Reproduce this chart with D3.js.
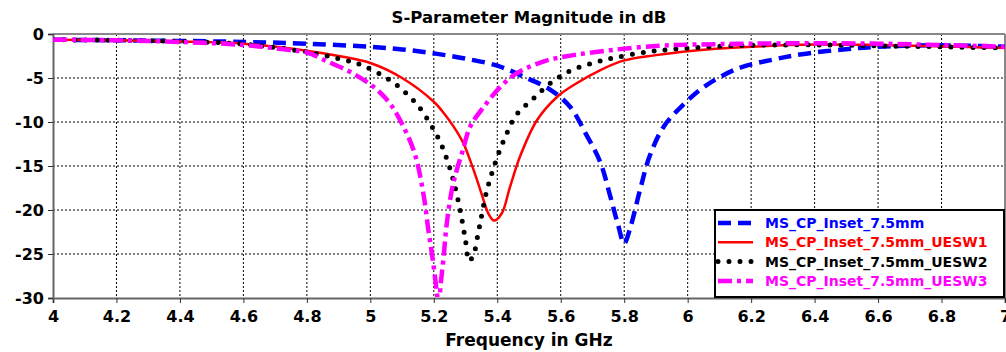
<!DOCTYPE html>
<html>
<head>
<meta charset="utf-8">
<script src="https://cdn.jsdelivr.net/npm/d3@7"></script>
<style>
  body { margin: 0; background: #fff; }
  svg { font-family: "DejaVu Sans", Verdana, sans-serif; font-weight: bold; }
</style>
</head>
<body>
<svg id="chart" width="1006" height="352"></svg>
<script>
// ticks
var xTicks = [4, 4.2, 4.4, 4.6, 4.8, 5, 5.2, 5.4, 5.6, 5.8, 6, 6.2, 6.4, 6.6, 6.8, 7];
var yTicks = [0, -5, -10, -15, -20, -25, -30];

// MS_CP_Inset_7.5mm
var blueFreq = [4.0, 4.3, 4.6, 4.8, 5.0, 5.1, 5.2, 5.3, 5.4, 5.48, 5.57, 5.63, 5.68, 5.725, 5.755, 5.78, 5.8, 5.82, 5.85, 5.88, 5.925, 5.99, 6.06, 6.16, 6.27, 6.36, 6.49, 6.6, 6.78, 7.0];
var blueDb = [-0.65, -0.75, -0.9, -1.1, -1.45, -1.75, -2.2, -2.8, -3.6, -4.8, -6.4, -8.3, -11.4, -14.6, -18.3, -21.6, -23.8, -21.9, -17.7, -13.9, -10.5, -7.9, -5.8, -3.9, -2.9, -2.3, -1.75, -1.45, -1.28, -1.45];

// MS_CP_Inset_7.5mm_UESW1
var redFreq = [4.0, 4.2, 4.4, 4.6, 4.8, 4.9, 5.0, 5.1, 5.2, 5.236, 5.262, 5.293, 5.32, 5.34, 5.357, 5.372, 5.39, 5.414, 5.44, 5.472, 5.525, 5.59, 5.65, 5.725, 5.8, 5.9, 6.0, 6.2, 6.4, 6.6, 6.8, 7.0];
var redDb = [-0.65, -0.72, -0.85, -1.1, -1.9, -2.5, -3.3, -5.0, -7.7, -9.2, -10.5, -12.4, -14.9, -17.0, -18.9, -20.4, -21.2, -20.4, -17.4, -13.9, -9.8, -7.1, -5.6, -4.1, -3.0, -2.4, -1.95, -1.45, -1.2, -1.25, -1.4, -1.6];

// MS_CP_Inset_7.5mm_UESW2
var blackFreq = [4.0, 4.2, 4.4, 4.6, 4.8, 4.9, 4.97, 5.06, 5.115, 5.16, 5.215, 5.24, 5.26, 5.283, 5.3, 5.311, 5.325, 5.34, 5.352, 5.365, 5.383, 5.405, 5.43, 5.46, 5.515, 5.57, 5.63, 5.7, 5.77, 5.88, 5.99, 6.12, 6.27, 6.45, 6.6, 6.8, 7.0];
var blackDb = [-0.65, -0.72, -0.85, -1.15, -2.05, -2.8, -3.5, -5.2, -6.8, -8.6, -11.9, -14.1, -16.4, -20.0, -23.5, -25.8, -25.1, -22.6, -20.4, -18.1, -15.8, -13.5, -11.3, -9.2, -7.3, -5.5, -4.2, -3.3, -2.7, -2.0, -1.63, -1.36, -1.25, -1.25, -1.35, -1.45, -1.6];

// MS_CP_Inset_7.5mm_UESW3
var magFreq = [4.0, 4.2, 4.4, 4.6, 4.74, 4.8, 4.863, 4.936, 5.01, 5.062, 5.104, 5.14, 5.167, 5.183, 5.197, 5.21, 5.215, 5.222, 5.23, 5.241, 5.257, 5.272, 5.29, 5.315, 5.357, 5.41, 5.46, 5.547, 5.64, 5.766, 5.91, 6.02, 6.2, 6.4, 6.6, 6.8, 7.0];
var magDb = [-0.65, -0.72, -0.9, -1.25, -1.8, -2.1, -3.1, -4.3, -6.0, -7.9, -10.5, -13.6, -18.1, -22.3, -25.7, -29.5, -31, -28.3, -25.7, -21.5, -17.7, -15.5, -13.4, -10.5, -8.3, -6.0, -4.5, -3.1, -2.4, -1.8, -1.33, -1.2, -1.1, -1.05, -1.1, -1.25, -1.45];

var seriesNames = ["MS_CP_Inset_7.5mm", "MS_CP_Inset_7.5mm_UESW1", "MS_CP_Inset_7.5mm_UESW2", "MS_CP_Inset_7.5mm_UESW3"];

var series = [
    { name: seriesNames[0], f: blueFreq, v: blueDb, color: "#0000ff", width: 4.5, dash: "13,7", cap: "butt" },
    { name: seriesNames[1], f: redFreq, v: redDb, color: "#ff0000", width: 2.5, dash: null, cap: "butt" },
    { name: seriesNames[2], f: blackFreq, v: blackDb, color: "#000000", width: 5, dash: "0,11", cap: "round" },
    { name: seriesNames[3], f: magFreq, v: magDb, color: "#ff00ff", width: 4.5, dash: "14,5,4,5", cap: "butt" }
];

var plotLeft = 53, plotRight = 1005, plotTop = 34, plotBottom = 298;

var x = d3.scaleLinear().domain([4, 7]).range([plotLeft, plotRight]);
var y = d3.scaleLinear().domain([-30, 0]).range([plotBottom, plotTop]);

var svg = d3.select("#chart");

// grid
svg.append("g").selectAll("line")
    .data(xTicks.slice(1, -1))
    .enter().append("line")
    .attr("x1", function (d) { return x(d); })
    .attr("x2", function (d) { return x(d); })
    .attr("y1", plotTop)
    .attr("y2", plotBottom)
    .attr("stroke", "#000")
    .attr("stroke-width", 1)
    .attr("stroke-dasharray", "2,2");
svg.append("g").selectAll("line")
    .data(yTicks.slice(1, -1))
    .enter().append("line")
    .attr("x1", plotLeft)
    .attr("x2", plotRight)
    .attr("y1", function (d) { return y(d); })
    .attr("y2", function (d) { return y(d); })
    .attr("stroke", "#000")
    .attr("stroke-width", 1)
    .attr("stroke-dasharray", "2,2");

// frame
svg.append("line").attr("x1", plotLeft).attr("x2", plotRight).attr("y1", plotTop).attr("y2", plotTop)
    .attr("stroke", "#888").attr("stroke-width", 2);
svg.append("line").attr("x1", plotRight).attr("x2", plotRight).attr("y1", plotTop).attr("y2", plotBottom)
    .attr("stroke", "#888").attr("stroke-width", 2);

// axes
var xAxis = d3.axisBottom(x).tickValues(xTicks).tickSize(5).tickFormat(function (d) { return String(d); });
var yAxis = d3.axisLeft(y).tickValues(yTicks).tickSize(5).tickFormat(function (d) { return String(d); });

var gx = svg.append("g").attr("transform", "translate(0," + plotBottom + ")").call(xAxis);
var gy = svg.append("g").attr("transform", "translate(" + plotLeft + ",0)").call(yAxis);

[gx, gy].forEach(function (g) {
    g.select(".domain").attr("stroke", "#666").attr("stroke-width", 2);
    g.selectAll(".tick line").attr("stroke", "#333").attr("stroke-width", 1);
    g.selectAll(".tick text")
        .attr("fill", "#000")
        .style("font-size", "16px")
        .style("font-weight", "bold")
        .style("font-family", "'DejaVu Sans', Verdana, sans-serif");
});
gx.selectAll(".tick text").attr("dy", "1.0em");
gy.selectAll(".tick text").attr("x", -9);

// clip
svg.append("clipPath").attr("id", "plotclip")
    .append("rect").attr("x", plotLeft).attr("y", plotTop - 3).attr("width", plotRight - plotLeft).attr("height", plotBottom - plotTop + 2);

var line = d3.line()
    .x(function (d) { return x(d[0]); })
    .y(function (d) { return y(d[1]); })
    .curve(d3.curveCatmullRom.alpha(0.5));

var plot = svg.append("g").attr("clip-path", "url(#plotclip)");
series.forEach(function (s) {
    var pts = s.f.map(function (f, i) { return [f, s.v[i]]; });
    plot.append("path")
        .datum(pts)
        .attr("d", line)
        .attr("fill", "none")
        .attr("stroke", s.color)
        .attr("stroke-width", s.width)
        .attr("stroke-dasharray", s.dash)
        .attr("stroke-linecap", s.cap)
        .attr("stroke-linejoin", "round");
});

// title and axis label
svg.append("text")
    .attr("x", (plotLeft + plotRight) / 2)
    .attr("y", 23)
    .attr("text-anchor", "middle")
    .style("font-size", "16.5px")
    .text("S-Parameter Magnitude in dB");
svg.append("text")
    .attr("x", (plotLeft + plotRight) / 2)
    .attr("y", 346)
    .attr("text-anchor", "middle")
    .style("font-size", "17px")
    .text("Frequency in GHz");

// legend
var legend = svg.append("g");
legend.append("rect")
    .attr("x", 715).attr("y", 210)
    .attr("width", 289).attr("height", 87)
    .attr("fill", "#fff")
    .attr("stroke", "#000")
    .attr("stroke-width", 2);
series.forEach(function (s, i) {
    var ly = 223 + i * 19.3;
    legend.append("line")
        .attr("x1", 718).attr("x2", 753)
        .attr("y1", ly).attr("y2", ly)
        .attr("stroke", s.color)
        .attr("stroke-width", s.width)
        .attr("stroke-dasharray", s.dash)
        .attr("stroke-linecap", s.cap);
    legend.append("text")
        .attr("x", 765)
        .attr("y", ly + 5)
        .attr("fill", s.color)
        .style("font-size", "14px")
        .text(s.name);
});
</script>
</body>
</html>
